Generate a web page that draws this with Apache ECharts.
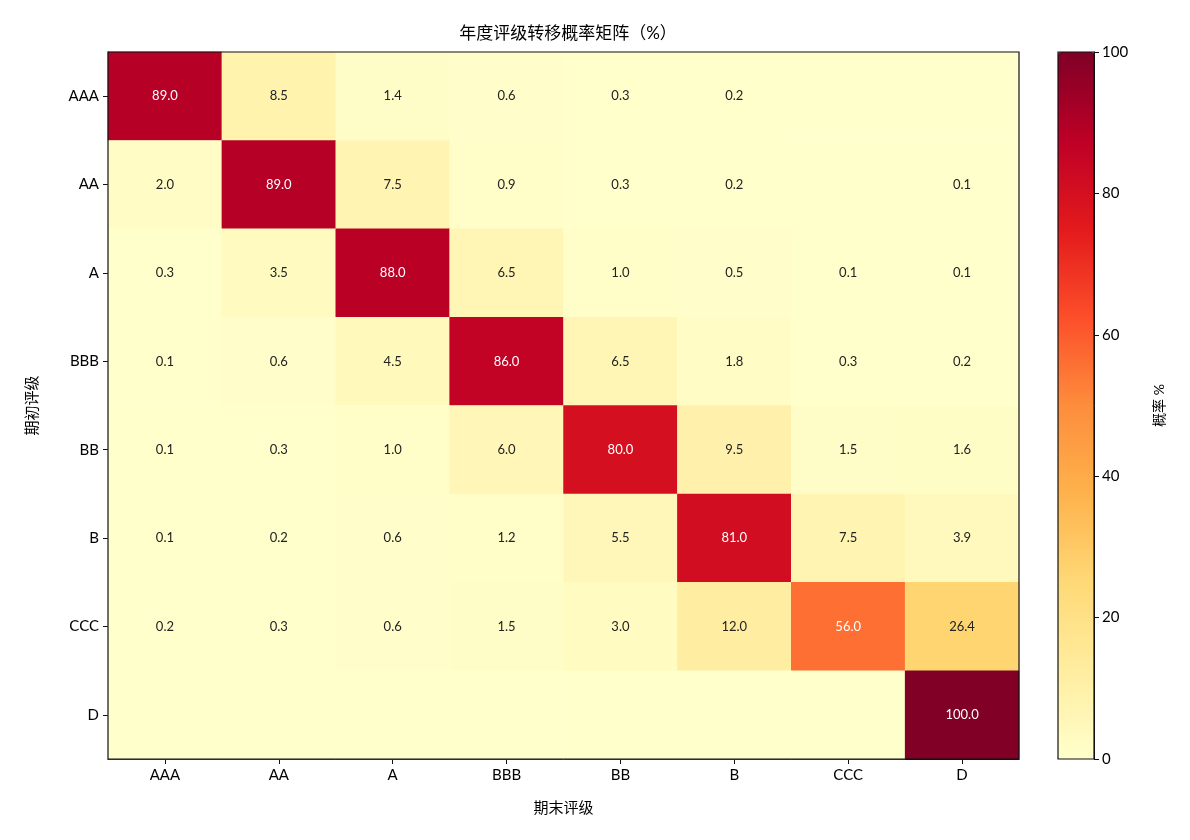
<!DOCTYPE html>
<html>
<head>
<meta charset="utf-8"/>
<title>年度评级转移概率矩阵</title>
<script src="https://cdn.jsdelivr.net/npm/echarts@6/dist/echarts.min.js"></script>
<style>
html,body{margin:0;padding:0;background:#fff;}
#main{width:1190px;height:840px;}
</style>
</head>
<body>
<div id="main"></div>
<script>
// 评级类别（期初 = 行，期末 = 列）
var ratings = ['AAA', 'AA', 'A', 'BBB', 'BB', 'B', 'CCC', 'D'];

// 每一行：从该期初评级转移到各期末评级的概率 (%)
var rowAAA = [89.0, 8.5, 1.4, 0.6, 0.3, 0.2, 0, 0];
var rowAA  = [2.0, 89.0, 7.5, 0.9, 0.3, 0.2, 0, 0.1];
var rowA   = [0.3, 3.5, 88.0, 6.5, 1.0, 0.5, 0.1, 0.1];
var rowBBB = [0.1, 0.6, 4.5, 86.0, 6.5, 1.8, 0.3, 0.2];
var rowBB  = [0.1, 0.3, 1.0, 6.0, 80.0, 9.5, 1.5, 1.6];
var rowB   = [0.1, 0.2, 0.6, 1.2, 5.5, 81.0, 7.5, 3.9];
var rowCCC = [0.2, 0.3, 0.6, 1.5, 3.0, 12.0, 56.0, 26.4];
var rowD   = [0, 0, 0, 0, 0, 0, 0, 100.0];
var matrixRows = [rowAAA, rowAA, rowA, rowBBB, rowBB, rowB, rowCCC, rowD];

var colorbarTicks = [0, 20, 40, 60, 80, 100];

// YlOrRd 色带
var ylOrRd = ['#ffffcc', '#ffeda0', '#fed976', '#feb24c', '#fd8d3c',
              '#fc4e2a', '#e31a1c', '#bd0026', '#800026'];

var heatData = [];
for (var r = 0; r < matrixRows.length; r++) {
    for (var c = 0; c < matrixRows[r].length; c++) {
        heatData.push({
            value: [c, r, matrixRows[r][c]],
            // 高值单元格使用白色文字
            label: {color: matrixRows[r][c] > 50 ? '#fff' : '#222'}
        });
    }
}

var font = 'Lato, "Noto Sans CJK SC", sans-serif';
var myChart = echarts.init(document.getElementById('main'));

var option = {
    backgroundColor: '#fff',
    textStyle: {fontFamily: font},
    animation: false,
    title: {
        text: '年度评级转移概率矩阵（%）',
        left: 563, top: 20, textAlign: 'center',
        textStyle: {fontFamily: font, fontSize: 17, fontWeight: 'normal', color: '#000'}
    },
    grid: [
        {left: 108, top: 52, width: 911, height: 707, show: true,
         borderColor: '#111', borderWidth: 1.2, backgroundColor: 'transparent', z: 10},
        {left: 1058, top: 52, width: 36, height: 707, show: true,
         borderColor: '#111', borderWidth: 1.2, backgroundColor: 'transparent', z: 10}
    ],
    xAxis: [
        {
            type: 'category', gridIndex: 0, data: ratings,
            name: '期末评级', nameLocation: 'middle', nameGap: 42,
            nameTextStyle: {fontSize: 15, color: '#000'},
            axisLine: {show: true, lineStyle: {color: '#111'}},
            axisTick: {show: true, alignWithLabel: true, length: 5, lineStyle: {color: '#111'}},
            axisLabel: {fontSize: 15, color: '#000', margin: 9},
            splitLine: {show: false}, splitArea: {show: false}
        },
        {type: 'value', gridIndex: 1, show: false, min: 0, max: 1}
    ],
    yAxis: [
        {
            type: 'category', gridIndex: 0, data: ratings, inverse: true,
            name: '期初评级', nameLocation: 'middle', nameGap: 68, nameRotate: 90,
            nameTextStyle: {fontSize: 15, color: '#000'},
            axisLine: {show: true, lineStyle: {color: '#111'}},
            axisTick: {show: true, alignWithLabel: true, length: 5, lineStyle: {color: '#111'}},
            axisLabel: {fontSize: 15, color: '#000', margin: 9},
            splitLine: {show: false}, splitArea: {show: false}
        },
        {
            type: 'value', gridIndex: 1, position: 'right', z: 20,
            min: colorbarTicks[0], max: colorbarTicks[colorbarTicks.length - 1], interval: 20,
            name: '概率 %', nameLocation: 'middle', nameGap: 58, nameRotate: 90,
            nameTextStyle: {fontSize: 14, color: '#000'},
            axisLine: {show: true, onZero: false, lineStyle: {color: '#111'}},
            axisTick: {show: true, inside: false, length: 5, lineStyle: {color: '#111', width: 1}},
            axisLabel: {fontSize: 15, color: '#000', margin: 8},
            splitLine: {show: false}
        }
    ],
    visualMap: {
        type: 'continuous', min: 0, max: 100, seriesIndex: 0,
        calculable: false, realtime: false, hoverLink: false,
        orient: 'vertical', left: 1058, top: 52, z: 2,
        itemWidth: 36, itemHeight: 707, padding: 0,
        text: ['', ''], showLabel: false,
        inRange: {color: ylOrRd}
    },
    series: [{
        type: 'heatmap',
        xAxisIndex: 0, yAxisIndex: 0,
        data: heatData,
        itemStyle: {borderWidth: 0},
        label: {
            show: true,
            fontSize: 13,
            formatter: function (p) {
                var v = p.value[2];
                return v > 0 ? v.toFixed(1) : '';
            }
        },
        emphasis: {disabled: true}
    }]
};

myChart.setOption(option);
</script>
</body>
</html>
